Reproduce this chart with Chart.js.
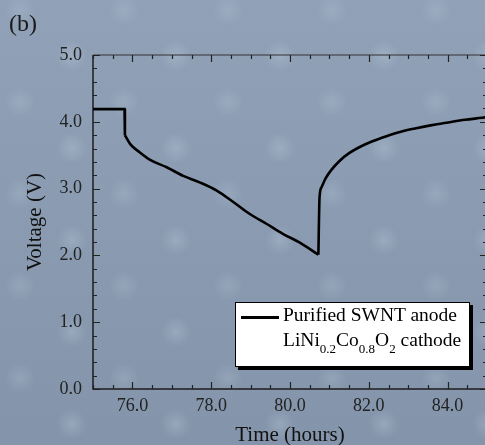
<!DOCTYPE html>
<html>
<head>
<meta charset="utf-8">
<script src="https://cdn.jsdelivr.net/npm/chart.js@4.4.0/dist/chart.umd.min.js"></script>
<style>
  html, body { margin:0; padding:0; width:485px; height:445px; overflow:hidden; }
  body {
    background-color:#8b9db4;
    background-image:
      radial-gradient(circle at 50% 50%, rgba(210,224,240,0.22) 0, rgba(210,224,240,0) 15px),
      radial-gradient(circle at 50% 50%, rgba(210,224,240,0.16) 0, rgba(210,224,240,0) 15px),
      linear-gradient(180deg, rgba(255,255,255,0.05), rgba(0,0,0,0.05));
    background-size: 104px 92px, 104px 92px, 100% 100%;
    background-position: 20px 10px, 72px 56px, 0 0;
    position:relative;
    font-family:"Liberation Serif", "Times New Roman", serif;
  }
  #wrap { position:absolute; left:0; top:0; width:490px; height:445px; }
  #tag { position:absolute; left:9px; top:11px; font-size:24px; line-height:24px; color:#1a1a1a; }
  #legend { position:absolute; left:235px; top:302px; width:233px; height:63px; background:#fff;
            border:1.5px solid #000; box-shadow:3px 3px 0 #000; }
  #legend .ln { position:absolute; left:5px; top:13px; width:38px; height:3px; background:#000; }
  #legend .t { position:absolute; left:47px; font-size:19.5px; line-height:22px; white-space:nowrap; color:#000; }
  #legend .s { font-size:13px; position:relative; top:7px; }
</style>
</head>
<body>
<div id="wrap"><canvas id="c" width="490" height="445"></canvas></div>
<div id="tag">(b)</div>
<div id="legend">
  <div class="ln"></div>
  <div class="t" style="top:1px">Purified SWNT anode</div>
  <div class="t" style="top:26px">LiNi<span class="s">0.2</span>Co<span class="s">0.8</span>O<span class="s">2</span> cathode</div>
</div>
<script>
// ---- data ----
// rest period at constant voltage, then the step down
const restTimes = [75.0, 75.80, 75.81];
const restVolts = [4.19, 4.19, 3.80];
// discharge
const dischargeTimes = [75.81, 75.94, 76.19, 76.45, 76.87, 77.29, 77.72, 78.14, 78.56, 78.98, 79.41, 79.83, 80.25, 80.72];
const dischargeVolts = [3.80, 3.67, 3.54, 3.43, 3.32, 3.19, 3.09, 2.97, 2.80, 2.62, 2.47, 2.32, 2.19, 2.01];
// relaxation after discharge
const relaxTimes = [80.72, 80.75, 80.80, 80.90, 81.05, 81.25, 81.50, 81.90, 82.33, 82.74, 83.17, 83.60, 84.01, 84.44, 84.87, 85.0];
const relaxVolts = [2.01, 2.87, 3.02, 3.15, 3.28, 3.41, 3.53, 3.66, 3.76, 3.84, 3.90, 3.95, 3.99, 4.03, 4.06, 4.07];

const xTickValues = [76, 78, 80, 82, 84];
const yTickValues = [0, 1, 2, 3, 4, 5];
const xRange = [75, 85];
const yRange = [0, 5];
const xMinorStep = 0.5, xMajorStep = 2;
const yMinorStep = 0.2, yMajorStep = 1;

const toPts = (ts, vs) => ts.map((t, i) => ({x: t, y: vs[i]}));

const frameTicks = {
  id: 'frameTicks',
  beforeDatasetsDraw(chart) {
    const {ctx, chartArea: a, scales: {x, y}} = chart;
    ctx.save();
    ctx.strokeStyle = '#1e1e1e';
    ctx.lineWidth = 1.5;
    ctx.beginPath();
    ctx.moveTo(a.left, a.top); ctx.lineTo(a.left, a.bottom); ctx.lineTo(a.right, a.bottom);
    ctx.stroke();
    ctx.strokeStyle = '#333';
    ctx.lineWidth = 1.2;
    ctx.beginPath();
    ctx.moveTo(a.left, a.top); ctx.lineTo(a.right, a.top); ctx.lineTo(a.right, a.bottom);
    ctx.stroke();
    ctx.lineWidth = 1.2;
    ctx.strokeStyle = '#222';
    ctx.beginPath();
    const nx = Math.round((xRange[1] - xRange[0]) / xMinorStep);
    for (let i = 0; i <= nx; i++) {
      const v = xRange[0] + i * xMinorStep;
      const r = v / xMajorStep;
      const major = Math.abs(r - Math.round(r)) < 1e-6;
      const len = major ? 7 : 4;
      const px = Math.round(x.getPixelForValue(v)) + 0.5;
      ctx.moveTo(px, a.bottom); ctx.lineTo(px, a.bottom - len);
      ctx.moveTo(px, a.top); ctx.lineTo(px, a.top + len);
    }
    const ny = Math.round((yRange[1] - yRange[0]) / yMinorStep);
    for (let i = 0; i <= ny; i++) {
      const v = yRange[0] + i * yMinorStep;
      const r = v / yMajorStep;
      const major = Math.abs(r - Math.round(r)) < 1e-6;
      const len = major ? 7 : 4;
      const py = Math.round(y.getPixelForValue(v)) + 0.5;
      ctx.moveTo(a.left, py); ctx.lineTo(a.left + len, py);
      ctx.moveTo(a.right, py); ctx.lineTo(a.right - len, py);
    }
    ctx.stroke();
    ctx.restore();
  }
};

const tickFont = {family: "'Liberation Serif', serif", size: 18};
const titleFont = {family: "'Liberation Serif', serif", size: 21};

const lineStyle = {borderColor: '#000', borderWidth: 2.6, pointRadius: 0, fill: false};

new Chart(document.getElementById('c'), {
  type: 'line',
  data: {
    datasets: [
      {label: 'Purified SWNT anode', data: toPts(restTimes, restVolts), ...lineStyle, tension: 0},
      {label: 'discharge', data: toPts(dischargeTimes, dischargeVolts), ...lineStyle, cubicInterpolationMode: 'monotone'},
      {label: 'relaxation', data: toPts(relaxTimes, relaxVolts), ...lineStyle, cubicInterpolationMode: 'monotone'}
    ]
  },
  options: {
    responsive: false,
    devicePixelRatio: 1,
    animation: false,
    layout: {padding: {top: 55, right: 3, left: 0, bottom: 0}},
    plugins: {legend: {display: false}, tooltip: {enabled: false}},
    scales: {
      x: {
        type: 'linear', min: xRange[0], max: xRange[1],
        grid: {display: false, drawTicks: false},
        border: {display: false},
        afterBuildTicks: s => { s.ticks = xTickValues.map(v => ({value: v})); },
        afterFit: s => { s.height = 56; },
        ticks: {font: tickFont, color: '#222', padding: 6, maxRotation: 0, callback: v => Number(v).toFixed(1)},
        title: {display: true, text: 'Time (hours)', font: {...titleFont, lineHeight: 0.9}, color: '#111', padding: {top: 0, bottom: 0}}
      },
      y: {
        type: 'linear', min: yRange[0], max: yRange[1],
        grid: {display: false, drawTicks: false},
        border: {display: false},
        afterBuildTicks: s => { s.ticks = yTickValues.map(v => ({value: v})); },
        afterFit: s => { s.width = 93; },
        ticks: {font: tickFont, color: '#222', padding: 11, callback: v => Number(v).toFixed(1)},
        title: {display: true, text: 'Voltage (V)', font: titleFont, color: '#111', padding: {top: 23, bottom: 0}}
      }
    }
  },
  plugins: [frameTicks]
});
</script>
</body>
</html>
